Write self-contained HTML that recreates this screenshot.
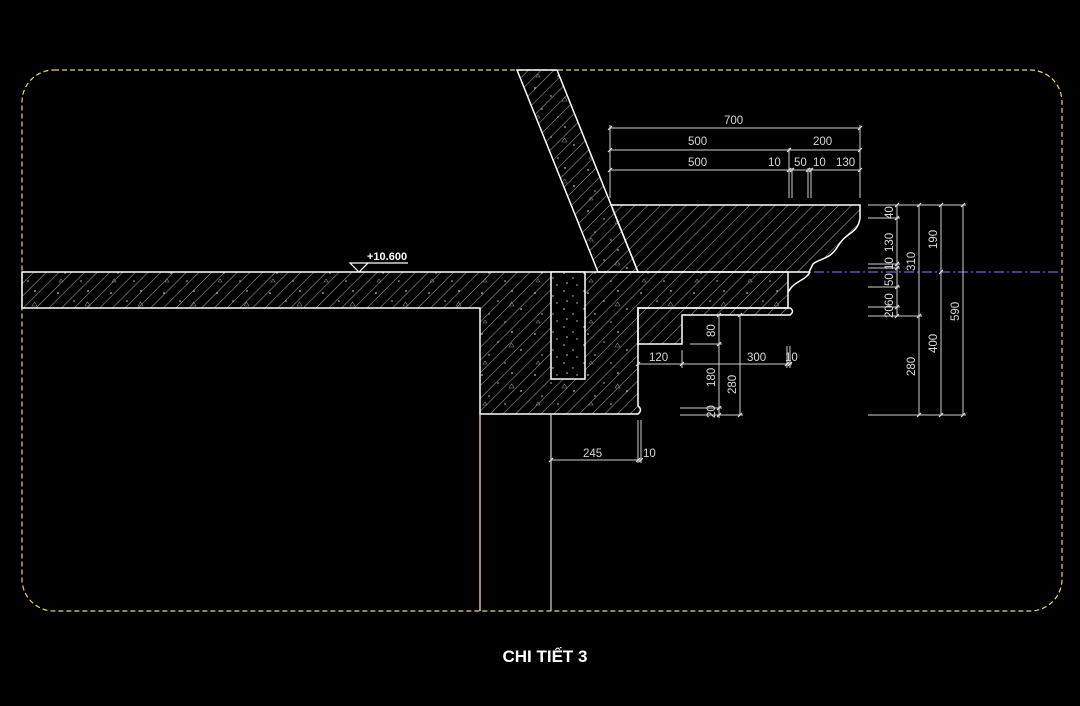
<!DOCTYPE html>
<html><head><meta charset="utf-8"><style>
html,body{margin:0;padding:0;background:#000;}
svg{display:block}
text{font-family:"Liberation Sans",sans-serif;fill:#d8d8d8;font-size:11.5px}
</style></head><body>
<svg width="1080" height="706" viewBox="0 0 1080 706" xmlns="http://www.w3.org/2000/svg">
<defs>
<pattern id="h" width="9" height="9" patternUnits="userSpaceOnUse" patternTransform="rotate(45)">
<line x1="0" y1="0" x2="0" y2="9" stroke="#a0a0a0" stroke-width="1.1"/>
</pattern>
<pattern id="d" width="53" height="41" patternUnits="userSpaceOnUse">
<circle cx="5" cy="6" r="0.9" fill="#bbb"/><circle cx="21" cy="14" r="0.8" fill="#bbb"/>
<circle cx="35" cy="4" r="0.9" fill="#bbb"/><circle cx="12" cy="27" r="0.8" fill="#bbb"/>
<circle cx="44" cy="22" r="0.9" fill="#bbb"/><circle cx="28" cy="35" r="0.8" fill="#bbb"/>
<path d="M32 19 l2.5 -4 l2.5 4 z" fill="none" stroke="#888" stroke-width="0.6"/>
<path d="M6 36 l2 -3 l2 3 z" fill="none" stroke="#888" stroke-width="0.6"/>
</pattern>
<pattern id="dd" width="20" height="18" patternUnits="userSpaceOnUse">
<circle cx="4" cy="3" r="0.8" fill="#ccc"/><circle cx="13" cy="8" r="0.7" fill="#ccc"/>
<circle cx="7" cy="13" r="0.8" fill="#ccc"/><circle cx="17" cy="15" r="0.7" fill="#ccc"/>
</pattern>
</defs>

<rect x="22" y="70" width="1040" height="541" rx="32" ry="32" fill="none" stroke="#e8d27a" stroke-width="1.2" stroke-dasharray="5,3"/>

<line x1="598" y1="272" x2="1062" y2="272" stroke="#6f5fe0" stroke-width="1.2" stroke-dasharray="10,3,2,3"/>

<polygon points="517,70 557,70 638,272 598,272" fill="url(#h)"/>
<polygon points="517,70 557,70 638,272 598,272" fill="url(#d)" stroke="#fff" stroke-width="1.5"/>

<path d="M611,205 L860,205 L860,218 C858,234 846,232 838,246 C830,260 820,258 813,264 L809,272 L638,272 Z" fill="url(#h)" stroke="#fff" stroke-width="1.5"/>
<path d="M810,272 C806,280 796,281 791,288 L788,292" fill="none" stroke="#fff" stroke-width="1.5"/>

<path d="M22,272 L788,272 L788,308 L638,308 L638,406 Q643,410 638,414 L480,414 L480,308 L22,308 Z" fill="url(#h)"/>
<path d="M22,272 L788,272 L788,308 L638,308 L638,406 Q643,410 638,414 L480,414 L480,308 L22,308 Z" fill="url(#d)" stroke="#fff" stroke-width="1.5"/>
<path d="M638,308 L790,308 Q795,311 790,315 L682,315 L682,344 L638,344 Z" fill="url(#h)" stroke="#fff" stroke-width="1.5"/>
<rect x="551" y="272" width="34" height="107" fill="#000"/>
<rect x="551" y="272" width="34" height="107" fill="url(#dd)" stroke="#fff" stroke-width="1.5"/>

<line x1="480" y1="414" x2="480" y2="611" stroke="#eac9c0" stroke-width="1.4"/>
<line x1="551" y1="414" x2="551" y2="611" stroke="#e0d0d0" stroke-width="1.2"/>

<path d="M350,263 L368,263 L359,272 Z" fill="none" stroke="#fff" stroke-width="1.2"/>
<line x1="367" y1="263" x2="408" y2="263" stroke="#fff" stroke-width="1.2"/>
<text x="367" y="260" style="font-size:11px;fill:#fff;font-weight:bold">+10.600</text>

<g stroke="#cfcfcf" stroke-width="1" fill="none">
<line x1="610" y1="125" x2="610" y2="198"/><line x1="789" y1="148" x2="789" y2="198"/>
<line x1="792" y1="168" x2="792" y2="198"/><line x1="808" y1="168" x2="808" y2="198"/>
<line x1="811" y1="168" x2="811" y2="198"/><line x1="860" y1="125" x2="860" y2="198"/>
<line x1="610" y1="128" x2="860" y2="128"/>
<line x1="610" y1="150" x2="860" y2="150"/>
<line x1="610" y1="170" x2="860" y2="170"/>
<line x1="868" y1="205" x2="966" y2="205"/>
<line x1="868" y1="218" x2="900" y2="218"/>
<line x1="868" y1="264" x2="900" y2="264"/>
<line x1="868" y1="268" x2="900" y2="268"/>
<line x1="868" y1="287" x2="900" y2="287"/>
<line x1="868" y1="307" x2="900" y2="307"/>
<line x1="868" y1="316" x2="922" y2="316"/>
<line x1="868" y1="415" x2="966" y2="415"/>
<line x1="897" y1="205" x2="897" y2="316"/>
<line x1="919" y1="205" x2="919" y2="415"/>
<line x1="941" y1="205" x2="941" y2="415"/>
<line x1="963" y1="205" x2="963" y2="415"/>
<line x1="719" y1="315" x2="719" y2="418"/>
<line x1="740" y1="315" x2="740" y2="415"/>
<line x1="690" y1="344" x2="722" y2="344"/>
<line x1="680" y1="408" x2="722" y2="408"/>
<line x1="680" y1="415" x2="743" y2="415"/>
<line x1="638" y1="364" x2="792" y2="364"/>
<line x1="682" y1="350" x2="682" y2="368"/>
<line x1="787" y1="346" x2="787" y2="368"/>
<line x1="790" y1="346" x2="790" y2="368"/>
<line x1="551" y1="460" x2="641" y2="460"/>
<line x1="638" y1="420" x2="638" y2="463"/>
<line x1="641" y1="420" x2="641" y2="463"/>
</g>
<g stroke="#e0e0e0" stroke-width="1.2">
<path d="M608,130 l4,-4 M858,130 l4,-4 M608,152 l4,-4 M787,152 l4,-4 M858,152 l4,-4 M608,172 l4,-4 M787,172 l4,-4 M790,172 l4,-4 M806,172 l4,-4 M809,172 l4,-4 M858,172 l4,-4"/>
<path d="M895,207 l4,-4 M895,220 l4,-4 M895,266 l4,-4 M895,270 l4,-4 M895,289 l4,-4 M895,309 l4,-4 M895,318 l4,-4 M917,207 l4,-4 M917,318 l4,-4 M917,417 l4,-4 M939,207 l4,-4 M939,274 l4,-4 M939,417 l4,-4 M961,207 l4,-4 M961,417 l4,-4"/>
<path d="M717,317 l4,-4 M717,346 l4,-4 M717,410 l4,-4 M717,417 l4,-4 M738,317 l4,-4 M738,417 l4,-4 M636,366 l4,-4 M680,366 l4,-4 M785,366 l4,-4 M788,366 l4,-4 M549,462 l4,-4 M636,462 l4,-4 M639,462 l4,-4"/>
</g>
<text x="724" y="124">700</text>
<text x="688" y="145">500</text><text x="813" y="145">200</text>
<text x="688" y="166">500</text><text x="768" y="166">10</text><text x="794" y="166">50</text><text x="813" y="166">10</text><text x="836" y="166">130</text>
<g>
<text transform="translate(893,219) rotate(-90)">40</text>
<text transform="translate(893,252) rotate(-90)">130</text>
<text transform="translate(893,270) rotate(-90)">10</text>
<text transform="translate(893,286) rotate(-90)">50</text>
<text transform="translate(893,306) rotate(-90)">60</text>
<text transform="translate(893,318) rotate(-90)">20</text>
<text transform="translate(915,271) rotate(-90)">310</text>
<text transform="translate(915,376) rotate(-90)">280</text>
<text transform="translate(937,249) rotate(-90)">190</text>
<text transform="translate(937,353) rotate(-90)">400</text>
<text transform="translate(959,321) rotate(-90)">590</text>
<text transform="translate(715,337) rotate(-90)">80</text>
<text transform="translate(715,387) rotate(-90)">180</text>
<text transform="translate(715,418) rotate(-90)">20</text>
<text transform="translate(736,394) rotate(-90)">280</text>
</g>
<text x="649" y="361">120</text><text x="747" y="361">300</text><text x="785" y="361">10</text>
<text x="583" y="457">245</text><text x="643" y="457">10</text>

<text x="545" y="662" text-anchor="middle" style="font-size:17px;font-weight:bold;fill:#fff">CHI TIẾT 3</text>
</svg>
</body></html>
